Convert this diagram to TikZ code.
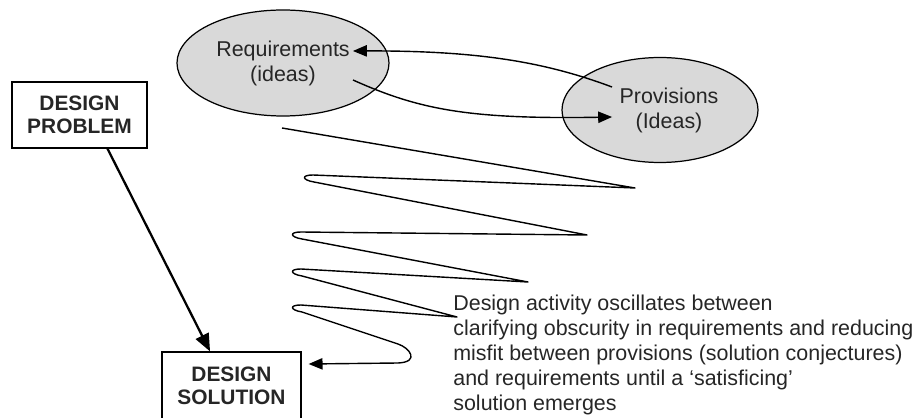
\documentclass[tikz,border=0pt]{standalone}
\usepackage{fontspec}
\setmainfont{Liberation Sans}
\usetikzlibrary{arrows,shapes.geometric}

\begin{document}
\begin{tikzpicture}[
    bubble/.style={ellipse, draw, fill=black!15, line width=0.7pt},
    idea/.style={align=center, text=black!85, font=\fontsize{12.2}{14.2}\selectfont},
    stagebox/.style={draw, line width=0.8pt, minimum width=2.7cm, minimum height=1.32cm,
      align=center, text=black!85, font=\fontsize{11.9}{13.4}\selectfont\bfseries},
    link/.style={-triangle 45, line width=0.8pt}
  ]
    \useasboundingbox (0,0) rectangle (18.36,8.34);
    \clip (0,0) rectangle (18.36,8.34);

    \node[bubble, minimum width=4.24cm, minimum height=2.12cm] (req) at (5.66,7.08) {};
    \node[idea] (reqtxt) at (req.center) {Requirements\\(ideas)};
    \node[bubble, minimum width=3.92cm, minimum height=2.10cm] (prov) at (13.20,6.14) {};
    \node[idea] (provtxt) at ([xshift=0.18cm]prov.center) {Provisions\\(Ideas)};

    \node[stagebox] (prob) at (1.59,6.04) {DESIGN\\PROBLEM};
    \node[stagebox, minimum width=2.78cm, minimum height=1.36cm] (sol) at (4.63,0.62) {DESIGN\\SOLUTION};

    \draw[link] ([xshift=-0.96cm,yshift=0.46cm]prov.center)
      .. controls (10.80,7.14) and (9.40,7.34) .. ([xshift=1.40cm,yshift=0.24cm]req.center);
    \draw[link] ([xshift=1.40cm,yshift=-0.34cm]req.center)
      .. controls (8.40,6.14) and (9.40,5.94) .. ([xshift=-0.96cm,yshift=-0.14cm]prov.center);

    \draw[link, line width=1.3pt] ([xshift=0.56cm]prob.south) -- ([xshift=-0.43cm]sol.north);

    % the oscillation
    \draw[link, line join=round] (5.64,5.78) -- (12.70,4.58)
      -- (6.26,4.84) .. controls (6.02,4.84) and (6.04,4.74) .. (6.28,4.70)
      -- (11.74,3.64)
      -- (6.02,3.70) .. controls (5.78,3.70) and (5.80,3.60) .. (6.04,3.56)
      -- (10.56,2.70)
      -- (6.02,2.96) .. controls (5.78,2.96) and (5.80,2.86) .. (6.04,2.82)
      -- (9.14,2.00)
      -- (6.02,2.24) .. controls (5.78,2.24) and (5.80,2.14) .. (6.04,2.10)
      -- (7.96,1.46) .. controls (8.20,1.38) and (8.40,1.10) .. (7.96,1.08)
      -- ([xshift=0.14cm,yshift=0.44cm]sol.east);

    \node[idea, align=left, anchor=north west, inner sep=0pt] (note) at (9.06,2.44)
      {Design activity oscillates between\\
       clarifying obscurity in requirements and reducing\\
       misfit between provisions (solution conjectures)\\
       and requirements until a `satisficing'\\
       solution emerges};
\end{tikzpicture}
\end{document}
